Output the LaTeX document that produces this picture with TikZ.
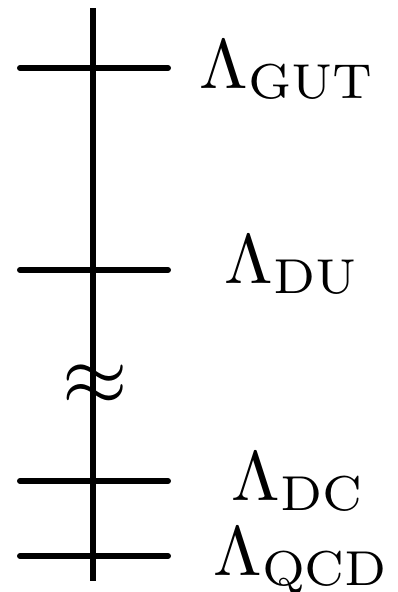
\documentclass[tikz,border=0pt]{standalone}
\begin{document}
\begin{tikzpicture}[x=1pt,y=-1pt,
  tick/.style={line width=6pt,line cap=round},
  axis/.style={line width=6pt},
  lab/.style={anchor=base west,inner sep=0pt,scale=7}]
\useasboundingbox (0,0) rectangle (398,592);
\coordinate (top) at (93,8);
\coordinate (bot) at (93,581);
\draw[axis] (top) -- (bot);
\foreach \n/\y in {a/68,b/270,c/481,d/556}{
  \coordinate (\n L) at (20,\y);
  \coordinate (\n R) at (168,\y);
  \draw[tick] (\n L) -- (\n R);
}
\node[inner sep=0pt,scale=8.4] (approx) at (95,385) {$\approx$};
\node[lab] (gut) at (198,88) {$\Lambda_{\mathrm{GUT}}$};
\node[lab] (du) at (223,283) {$\Lambda_{\mathrm{DU}}$};
\node[lab] (dc) at (230,500) {$\Lambda_{\mathrm{DC}}$};
\node[lab] (qcd) at (212,575) {$\Lambda_{\mathrm{QCD}}$};
\end{tikzpicture}
\end{document}
